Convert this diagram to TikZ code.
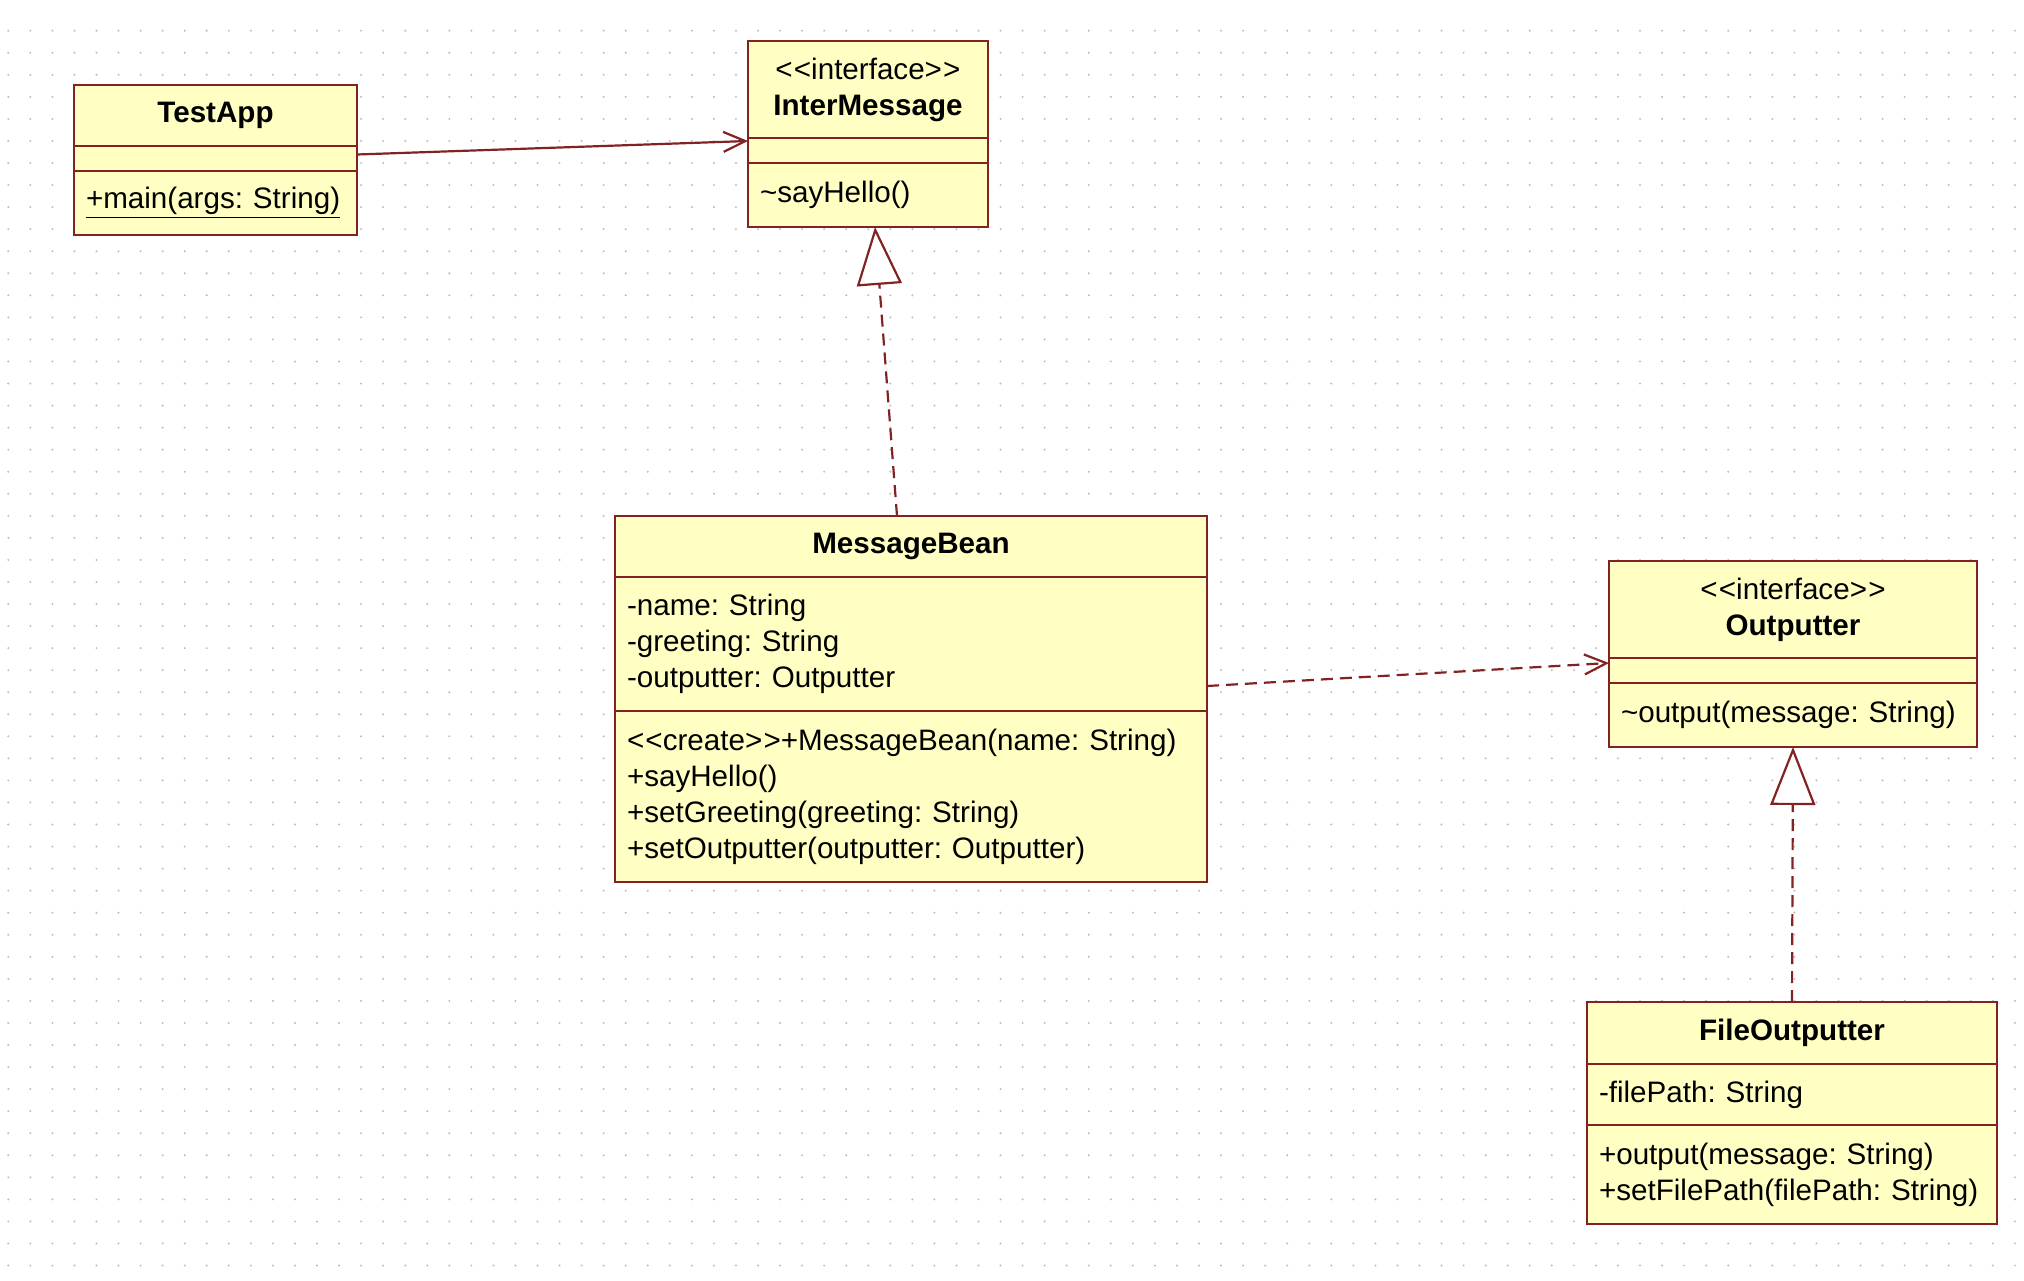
\documentclass[tikz,border=0pt]{standalone}
\usepackage{fontspec}
\setmainfont{Liberation Sans}
\usetikzlibrary{positioning, arrows.meta}

\definecolor{umlred}{HTML}{822222}
\definecolor{umlfill}{HTML}{FFFFC4}
\definecolor{dotgray}{HTML}{BDBDBD}
\newcommand{\umlstereo}[1]{<\kern0.6pt<#1>\kern0.6pt>}
\frenchspacing

\begin{document}
\begin{tikzpicture}[x=0.5pt, y=-0.5pt,
  blank/.style={draw=umlred, fill=umlfill, line width=1.3pt, outer sep=0pt, inner sep=0pt, minimum width=#1},
  umlbox/.style={draw=umlred, fill=umlfill, line width=1.3pt, outer sep=0pt, inner xsep=6pt, inner ysep=0pt, text width=#1, font=\fontsize{14.8pt}{18pt}\selectfont},
  classname/.style={umlbox=#1, align=center, anchor=north west, font=\fontsize{14.8pt}{18pt}\selectfont\bfseries},
  members/.style={umlbox=#1, align=left},
  assoc/.style={draw=umlred, line width=1.1pt, -{Straight Barb[length=11pt, width=10pt]}},
  depend/.style={assoc, dash pattern=on 6pt off 3.5pt},
  realize/.style={draw=umlred, line width=1.1pt, dash pattern=on 6pt off 3.5pt, -{Triangle[length=29pt, width=22.5pt, fill=white]}}
]
\fill[white] (0,0) rectangle (2024,1280);
\useasboundingbox (0,0) rectangle (2024,1280);

% Dotted grid
\foreach \i in {0,...,91}
  \foreach \j in {0,...,56}
    \fill[dotgray] (8.3+22.05*\i, 30.7+22.05*\j) circle[radius=0.55pt];

% TestApp
\node[classname=129.5pt, minimum height=30.5pt] (testapp) at (74,85) {TestApp};
\node[blank=141.5pt, minimum height=12.5pt, below=0pt of testapp] (testapp-attr) {};
\node[members=129.5pt, minimum height=32pt, below=0pt of testapp-attr] (testapp-ops) {\underline{+main(args: String)}};

% InterMessage
\node[classname=108pt, minimum height=48.5pt] (intermsg) at (748,41) {{\mdseries\umlstereo{interface}}\\InterMessage};
\node[blank=120pt, minimum height=12.5pt, below=0pt of intermsg] (intermsg-attr) {};
\node[members=108pt, minimum height=32pt, below=0pt of intermsg-attr] (intermsg-ops) {\textasciitilde sayHello()};

% MessageBean
\node[classname=284pt, minimum height=30.5pt] (msgbean) at (615,516) {MessageBean};
\node[members=284pt, minimum height=67pt, below=0pt of msgbean] (msgbean-attr) {-name: String\\-greeting: String\\-outputter: Outputter};
\node[members=284pt, minimum height=85.5pt, below=0pt of msgbean-attr] (msgbean-ops) {\umlstereo{create}+MessageBean(name: String)\\+sayHello()\\+setGreeting(greeting: String)\\+setOutputter(outputter: Outputter)};

% Outputter
\node[classname=172pt, minimum height=48.5pt] (outputter) at (1609,561) {{\mdseries\umlstereo{interface}}\\Outputter};
\node[blank=184pt, minimum height=12.5pt, below=0pt of outputter] (outputter-attr) {};
\node[members=172pt, minimum height=32pt, below=0pt of outputter-attr] (outputter-ops) {\textasciitilde output(message: String)};

% FileOutputter
\node[classname=193pt, minimum height=31pt] (fileout) at (1587,1002) {FileOutputter};
\node[members=193pt, minimum height=30.5pt, below=0pt of fileout] (fileout-attr) {-filePath: String};
\node[members=193pt, minimum height=49.5pt, below=0pt of fileout-attr] (fileout-ops) {+output(message: String)\\+setFilePath(filePath: String)};

% Relations
\draw[assoc] ([yshift=2pt]testapp-attr.east) -- ([yshift=-1.5pt]intermsg-attr.north west);
\draw[realize] ([xshift=-7pt]msgbean.north) -- ([xshift=3.5pt]intermsg-ops.south);
\draw[depend] ([yshift=-21pt]msgbean-attr.east) -- ([yshift=-2.5pt]outputter-attr.north west);
\draw[realize] (fileout.north) -- (outputter-ops.south);
\end{tikzpicture}
\end{document}
